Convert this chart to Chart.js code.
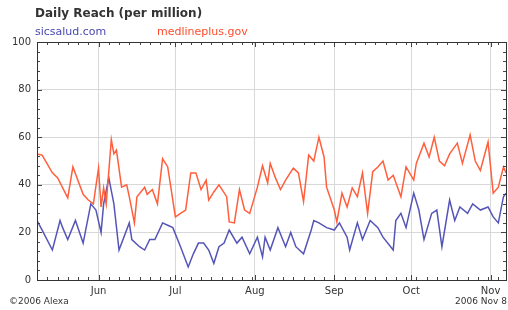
<!DOCTYPE html>
<html>
<head>
<meta charset="utf-8">
<script src="https://cdn.jsdelivr.net/npm/chart.js@4"></script>
<style>
  body { margin: 0; background: #fff; font-family: "DejaVu Sans", sans-serif; }
  #wrap { position: relative; width: 508px; height: 310px; }
  canvas { position: absolute; left: 0; top: 0; }
  .t { position: absolute; white-space: nowrap; line-height: 1; }
</style>
</head>
<body>
<div id="wrap">
  <canvas id="chart" width="508" height="310"></canvas>
  <div class="t" style="left:35px;top:7px;font-size:12px;font-weight:bold;color:#333">Daily Reach (per million)</div>
  <div class="t" style="left:35px;top:26px;font-size:11px;color:#4848b0">sicsalud.com</div>
  <div class="t" style="left:157px;top:26px;font-size:11px;color:#ff4b2b">medlineplus.gov</div>
  <div class="t" style="left:9px;top:297px;font-size:9px;color:#333">©2006 Alexa</div>
  <div class="t" style="right:1px;top:297px;font-size:9px;color:#333">2006 Nov 8</div>
</div>
<script>
// x values are days counted from 2006 May 8
const monthDays = [24, 54, 85, 116, 146, 177];
const monthLabels = ["Jun", "Jul", "Aug", "Sep", "Oct", "Nov"];
const yTicks = [0, 20, 40, 60, 80, 100];

const medlineDays = [0, 2, 6, 8, 12, 14, 18, 20, 22, 24, 25, 26, 27, 29, 30, 31, 33, 35, 36, 38,
  39, 42, 43, 45, 47, 49, 51, 54, 56, 58, 60, 62, 64, 66, 67, 69, 71, 74, 75, 77,
  79, 81, 83, 86, 88, 90, 91, 93, 95, 97, 100, 102, 104, 106, 108, 110, 112, 113, 116, 117,
  119, 121, 123, 125, 127, 129, 131, 133, 135, 137, 139, 142, 144, 147, 148, 151, 153, 155, 157, 159,
  161, 164, 166, 169, 171, 173, 176, 178, 180, 182, 183];
const medlineValues = [53, 52.5, 45, 43, 34.5, 47.5, 36, 33.6, 32, 47, 30.7, 38.7, 32, 59, 53, 54.6, 39, 40, 35, 24,
  35, 39, 36, 38, 32, 51, 47.5, 26.5, 28, 29.4, 45, 45, 38, 42, 33.6, 37, 40, 35, 24.4, 24,
  38, 29.4, 28, 39, 48, 40.8, 49, 43, 38, 42, 47, 45, 33, 52.5, 50, 60, 51.7, 39, 29.4, 24.4,
  36.5, 30.7, 38.7, 35, 45, 28, 45.5, 47.5, 50, 42, 44, 35, 47.5, 42, 49, 57.5, 51.7, 60, 50, 48,
  53, 57.5, 49, 61, 50, 46, 58, 36.5, 39, 47.5, 45];

const sicsaludDays = [0, 2, 6, 9, 10, 12, 15, 18, 21, 23, 25, 26, 28, 30, 32, 36, 37, 40, 42, 44,
  46, 49, 51, 53, 56, 59, 61, 63, 65, 67, 69, 71, 73, 75, 78, 80, 83, 86, 88, 89,
  91, 94, 97, 99, 101, 104, 107, 108, 110, 113, 116, 118, 121, 122, 125, 127, 130, 133, 135, 139,
  140, 142, 144, 147, 149, 151, 154, 156, 158, 161, 163, 165, 168, 170, 173, 176, 178, 180, 182, 183];
const sicsaludValues = [25, 21, 12.6, 25, 22, 17, 25, 15.5, 32, 29.4, 20, 32, 43, 32, 12.6, 24, 17, 14, 12.6, 17,
  17, 24, 23, 22, 14, 5.5, 11, 15.5, 15.5, 12.6, 7, 14, 15.5, 21, 15.5, 18, 11, 18, 9.7, 18,
  12.6, 22, 14, 20, 14, 11, 21, 25, 24, 22, 21, 24, 18, 12.6, 24, 17, 25, 22, 18, 12.6,
  25, 28, 22, 36.5, 29.4, 17, 28, 29.4, 14, 33.6, 25, 30.7, 28, 32, 29.4, 30.7, 26.5, 24, 35, 36.5];

const toPoints = (xs, ys) => xs.map((x, i) => ({ x: x, y: ys[i] }));

// small inward tick marks and the frame round the plot
const frameTicks = {
  id: "frameTicks",
  afterDraw(chart) {
    const { ctx, chartArea: a, scales } = chart;
    ctx.save();
    ctx.strokeStyle = "#444";
    ctx.lineWidth = 1;
    ctx.beginPath();
    for (let v = 0; v <= 100; v += 4) {
      const y = Math.round(scales.y.getPixelForValue(v)) + 0.5;
      const len = v % 20 === 0 ? 5 : 3;
      ctx.moveTo(a.left, y); ctx.lineTo(a.left + len, y);
      ctx.moveTo(a.right, y); ctx.lineTo(a.right - len, y);
    }
    for (let d = 0; d <= 183; d += 1) {
      const major = monthDays.includes(d);
      if (!major && (d - 24) % 4 !== 0) continue;
      const x = Math.round(scales.x.getPixelForValue(d)) + 0.5;
      const len = major ? 5 : 3;
      ctx.moveTo(x, a.bottom); ctx.lineTo(x, a.bottom - len);
      ctx.moveTo(x, a.top); ctx.lineTo(x, a.top + len);
    }
    ctx.stroke();
    ctx.strokeStyle = "#333";
    ctx.strokeRect(Math.round(a.left) + 0.5, Math.round(a.top) + 0.5,
      Math.round(a.right - a.left), Math.round(a.bottom - a.top));
    ctx.restore();
  }
};

new Chart(document.getElementById("chart"), {
  type: "line",
  data: {
    datasets: [
      {
        label: "medlineplus.gov",
        data: toPoints(medlineDays, medlineValues),
        borderColor: "#ff5f3c",
        borderWidth: 1.5,
        pointRadius: 0,
        tension: 0,
      },
      {
        label: "sicsalud.com",
        data: toPoints(sicsaludDays, sicsaludValues),
        borderColor: "#5555b8",
        borderWidth: 1.5,
        pointRadius: 0,
        tension: 0,
      },
    ],
  },
  options: {
    responsive: false,
    animation: false,
    layout: { padding: { top: 42, right: 2, left: 0, bottom: 0 } },
    plugins: { legend: { display: false }, tooltip: { enabled: false } },
    scales: {
      x: {
        type: "linear",
        min: 0,
        max: 183,
        afterBuildTicks: (s) => { s.ticks = monthDays.map((v) => ({ value: v })); },
        afterFit: (s) => { s.height = 30; },
        ticks: {
          autoSkip: false,
          maxRotation: 0,
          padding: 5,
          color: "#333",
          font: { family: "DejaVu Sans", size: 10 },
          callback: (v) => monthLabels[monthDays.indexOf(v)],
        },
        grid: { color: "#d8d8d8", drawTicks: false },
        border: { display: false },
      },
      y: {
        min: 0,
        max: 100,
        afterBuildTicks: (s) => { s.ticks = yTicks.map((v) => ({ value: v })); },
        afterFit: (s) => { s.width = 37; },
        ticks: {
          padding: 6,
          color: "#333",
          font: { family: "DejaVu Sans", size: 10 },
        },
        grid: { color: "#d8d8d8", drawTicks: false },
        border: { display: false },
      },
    },
  },
  plugins: [frameTicks],
});
</script>
</body>
</html>
